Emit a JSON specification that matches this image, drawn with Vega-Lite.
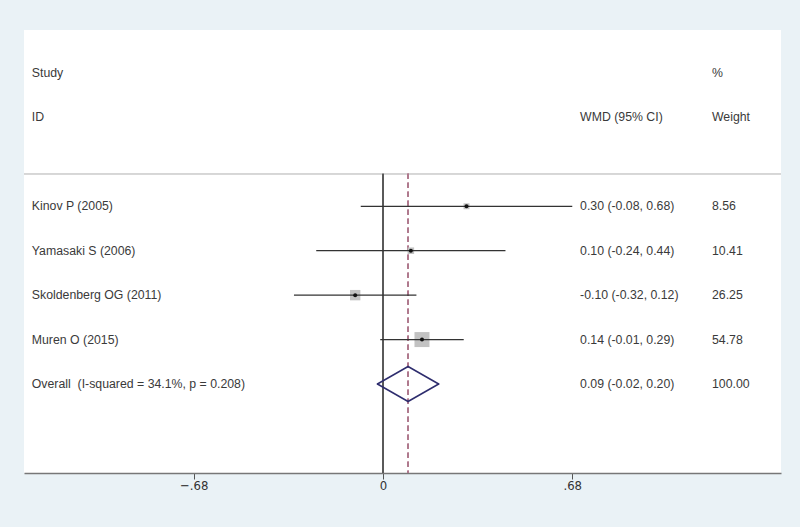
{
  "$schema": "https://vega.github.io/schema/vega-lite/v6.json",
  "autosize": {"type": "none"},
  "width": 757,
  "height": 443,
  "padding": {"left": 24, "top": 30, "right": 19, "bottom": 54},
  "background": "#EAF2F6",
  "view": {"fill": "#ffffff", "stroke": null},
  "config": {
    "text": {"font": "Liberation Sans", "fontSize": 12.3, "color": "#3a3a3a", "baseline": "middle", "align": "left"},
    "axis": {"grid": false}
  },
  "data": {
    "values": [
      {"row": "Study", "label": "Study", "ci": "", "w": "%", "type": "header"},
      {"row": "ID", "label": "ID", "ci": "WMD (95% CI)", "w": "Weight", "type": "header"},
      {"row": "Kinov P (2005)", "label": "Kinov P (2005)", "type": "study", "est": 0.30, "lo": -0.08, "hi": 0.68, "weight": 8.56, "ci": "0.30 (-0.08, 0.68)", "w": "8.56"},
      {"row": "Yamasaki S (2006)", "label": "Yamasaki S (2006)", "type": "study", "est": 0.10, "lo": -0.24, "hi": 0.44, "weight": 10.41, "ci": "0.10 (-0.24, 0.44)", "w": "10.41"},
      {"row": "Skoldenberg OG (2011)", "label": "Skoldenberg OG (2011)", "type": "study", "est": -0.10, "lo": -0.32, "hi": 0.12, "weight": 26.25, "ci": "-0.10 (-0.32, 0.12)", "w": "26.25"},
      {"row": "Muren O (2015)", "label": "Muren O (2015)", "type": "study", "est": 0.14, "lo": -0.01, "hi": 0.29, "weight": 54.78, "ci": "0.14 (-0.01, 0.29)", "w": "54.78"},
      {"row": "Overall", "label": "Overall\u00a0 (I-squared = 34.1%, p = 0.208)", "type": "overall", "est": 0.09, "lo": -0.02, "hi": 0.20, "weight": 100, "ci": "0.09 (-0.02, 0.20)", "w": "100.00"}
    ]
  },
  "encoding": {
    "y": {
      "field": "row", "type": "ordinal",
      "scale": {"type": "point", "domain": ["Study", "ID", "_sep", "Kinov P (2005)", "Yamasaki S (2006)", "Skoldenberg OG (2011)", "Muren O (2015)", "Overall"], "range": [43, 354], "padding": 0},
      "axis": null
    }
  },
  "layer": [
    {
      "mark": {"type": "rule", "color": "#d6d6d6", "strokeWidth": 1, "yOffset": 12},
      "encoding": {"y": {"datum": "_sep", "type": "ordinal"}, "x": {"datum": -1.29, "type": "quantitative"}, "x2": {"datum": 1.43}}
    },
    {
      "mark": {"type": "rule", "color": "#5a5a5a", "strokeWidth": 1, "yOffset": 12, "y2Offset": 89},
      "encoding": {"x": {"datum": 0, "type": "quantitative"}, "y": {"datum": "_sep", "type": "ordinal"}, "y2": {"datum": "Overall"}}
    },
    {
      "mark": {"type": "rule", "color": "#B07A8E", "strokeWidth": 1.2, "strokeDash": [5, 4], "yOffset": 12, "y2Offset": 89},
      "encoding": {"x": {"datum": 0.09, "type": "quantitative"}, "y": {"datum": "_sep", "type": "ordinal"}, "y2": {"datum": "Overall"}}
    },
    {
      "transform": [{"filter": "datum.type === 'study'"}],
      "mark": {"type": "square", "filled": true, "color": "#C2C2C2", "opacity": 1},
      "encoding": {
        "x": {"field": "est", "type": "quantitative"},
        "size": {"field": "weight", "type": "quantitative", "scale": {"domain": [0, 54.78], "range": [0, 225], "zero": true}, "legend": null}
      }
    },
    {
      "transform": [{"filter": "datum.type === 'study'"}],
      "mark": {"type": "rule", "color": "#333333", "strokeWidth": 1.3},
      "encoding": {
        "x": {"field": "lo", "type": "quantitative"},
        "x2": {"field": "hi"}
      }
    },
    {
      "transform": [{"filter": "datum.type === 'study'"}],
      "mark": {"type": "circle", "color": "#111111", "size": 16, "opacity": 1},
      "encoding": {"x": {"field": "est", "type": "quantitative"}}
    },
    {
      "transform": [{"filter": "datum.type === 'overall'"}],
      "mark": {"type": "rule", "color": "#2E2D6E", "strokeWidth": 1.5, "strokeCap": "round", "y2Offset": -17.5},
      "encoding": {"x": {"field": "lo", "type": "quantitative"}, "x2": {"field": "est"}, "y2": {"field": "row"}}
    },
    {
      "transform": [{"filter": "datum.type === 'overall'"}],
      "mark": {"type": "rule", "color": "#2E2D6E", "strokeWidth": 1.5, "strokeCap": "round", "y2Offset": 17.5},
      "encoding": {"x": {"field": "lo", "type": "quantitative"}, "x2": {"field": "est"}, "y2": {"field": "row"}}
    },
    {
      "transform": [{"filter": "datum.type === 'overall'"}],
      "mark": {"type": "rule", "color": "#2E2D6E", "strokeWidth": 1.5, "strokeCap": "round", "yOffset": -17.5},
      "encoding": {"x": {"field": "est", "type": "quantitative"}, "x2": {"field": "hi"}, "y2": {"field": "row"}}
    },
    {
      "transform": [{"filter": "datum.type === 'overall'"}],
      "mark": {"type": "rule", "color": "#2E2D6E", "strokeWidth": 1.5, "strokeCap": "round", "yOffset": 17.5},
      "encoding": {"x": {"field": "est", "type": "quantitative"}, "x2": {"field": "hi"}, "y2": {"field": "row"}}
    },
    {
      "mark": {"type": "text"},
      "encoding": {"x": {"datum": -1.262, "type": "quantitative"}, "text": {"field": "label"}}
    },
    {
      "mark": {"type": "text"},
      "encoding": {"x": {"datum": 0.708, "type": "quantitative"}, "text": {"field": "ci"}}
    },
    {
      "mark": {"type": "text"},
      "encoding": {
        "x": {
          "datum": 1.182, "type": "quantitative",
          "scale": {"domain": [-1.29, 1.43], "nice": false, "zero": false},
          "axis": {
            "title": null,
            "values": [-0.68, 0, 0.68],
            "labelExpr": "datum.value === 0 ? '0' : replace(format(datum.value, '.2f'), '0.', '.')",
            "domainColor": "#777777",
            "domainWidth": 1.5,
            "tickColor": "#555555",
            "tickSize": 6,
            "tickWidth": 1,
            "labelFont": "DejaVu Sans Condensed, Liberation Sans, sans-serif",
            "labelFontSize": 13,
            "labelColor": "#333333",
            "labelPadding": 0,
            "grid": false
          }
        },
        "text": {"field": "w"}
      }
    }
  ]
}
